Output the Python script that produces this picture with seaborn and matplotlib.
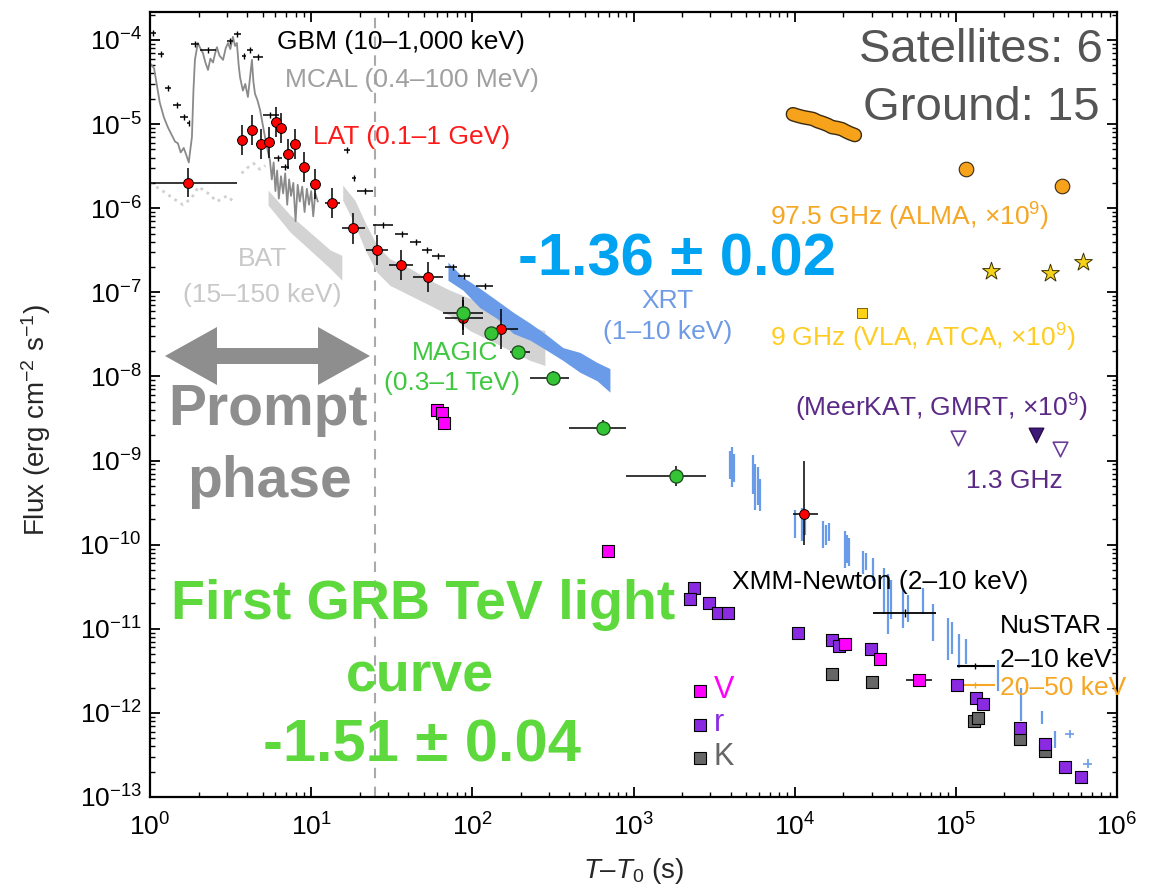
import matplotlib.pyplot as plt
import matplotlib.patheffects as pe
import seaborn as sns
import numpy as np
from matplotlib.patches import Polygon
from matplotlib.ticker import FixedLocator, LogLocator, NullFormatter

# ---- data (time in s, flux in erg cm^-2 s^-1) ----

# GBM (10-1000 keV), black crosses
gbm_t = [1.04, 1.17, 1.29, 1.47, 1.62, 1.74, 1.90, 2.29, 3.13, 3.46, 3.83, 4.17, 4.67, 5.55,
         6.22, 6.87, 16.7, 18.4, 21.6, 27.9, 36.6, 44.8, 52.4, 61.3, 75.9, 88.8, 120]
gbm_f = [1.21e-4, 6.8e-5, 2.7e-5, 1.7e-5, 1.2e-5, 1.03e-5, 9.0e-5, 7.6e-5, 9.7e-5, 1.18e-4, 6.5e-5,
         7.6e-5, 6.3e-5, 1.28e-5, 4.0e-6, 3.1e-6, 4.9e-6, 2.3e-6, 1.6e-6, 6.3e-7, 5.0e-7, 4.0e-7,
         3.2e-7, 2.7e-7, 2.0e-7, 1.55e-7, 1.2e-7]
gbm_tlo = [1.0, 1.12, 1.24, 1.39, 1.53, 1.70, 1.80, 2.05, 3.0, 3.3, 3.7, 4.0, 4.35, 5.0,
           5.9, 6.5, 16.0, 17.8, 19.3, 24.1, 33.0, 41.0, 48.8, 56.4, 67.5, 81.5, 106]
gbm_thi = [1.09, 1.22, 1.35, 1.56, 1.72, 1.78, 2.02, 2.55, 3.27, 3.65, 3.95, 4.35, 5.05, 6.3,
           6.6, 7.3, 17.4, 19.0, 24.1, 32.3, 39.9, 48.2, 56.4, 67.5, 80.5, 96.5, 134]

# MCAL (0.4-100 MeV), dark grey curve
mcal_t = [1.0, 1.06, 1.10, 1.15, 1.22, 1.29, 1.36, 1.43, 1.49, 1.55, 1.62, 1.70, 1.74, 1.78, 1.82,
          1.86, 1.90, 1.98, 2.05, 2.13, 2.2, 2.29, 2.37, 2.46, 2.53, 2.60, 2.7, 2.84, 2.95, 3.05,
          3.15, 3.27, 3.37, 3.46, 3.55, 3.62, 3.77, 3.9, 4.05, 4.17, 4.29, 4.38, 4.48, 4.65, 4.82,
          5.0, 5.17, 5.35, 5.55, 5.7, 5.85, 6.0, 6.15, 6.3, 6.5, 6.7, 6.9, 7.1, 7.3, 7.5, 7.75,
          8.0, 8.25, 8.5, 8.8, 9.1, 9.4, 9.7, 10.0, 10.3, 10.6, 11.0]
mcal_f = [5.3e-5, 4.6e-5, 3.0e-5, 1.8e-5, 1.2e-5, 9.2e-6, 7.5e-6, 6.2e-6, 5.9e-6, 4.6e-6, 5.2e-6,
          4.0e-6, 3.5e-6, 5.0e-6, 7.0e-6, 2.5e-5, 5.8e-5, 9.2e-5, 8.0e-5, 7.0e-5, 5.5e-5, 4.4e-5,
          6.0e-5, 5.4e-5, 6.8e-5, 8.2e-5, 6.5e-5, 5.8e-5, 8.0e-5, 9.2e-5, 7.8e-5, 1.09e-4, 8.5e-5,
          9.2e-5, 5.0e-5, 3.6e-5, 2.5e-5, 3.0e-5, 2.1e-5, 3.5e-5, 5.8e-5, 3.2e-5, 2.3e-5, 1.9e-5,
          1.47e-5, 1.0e-5, 7.0e-6, 5.0e-6, 3.7e-6, 2.2e-6, 3.5e-6, 1.6e-6, 2.8e-6, 1.3e-6, 2.4e-6,
          1.5e-6, 2.6e-6, 1.1e-6, 2.2e-6, 1.4e-6, 2.0e-6, 7.0e-7, 1.9e-6, 1.2e-6, 1.8e-6, 9.0e-7,
          1.7e-6, 1.1e-6, 1.6e-6, 8.0e-7, 1.5e-6, 1.2e-6]

# BAT (15-150 keV), light grey
bat_early_t = [1.0, 1.2, 1.4, 1.6, 1.8, 2.0, 2.3, 2.6, 3.0, 3.3]
bat_early_f = [2.0e-6, 1.6e-6, 1.3e-6, 1.1e-6, 1.3e-6, 1.8e-6, 1.5e-6, 1.2e-6, 1.4e-6, 1.2e-6]
bat_mid_t = [3.7, 4.0, 4.4, 4.8, 5.2]
bat_mid_f = [2.6e-6, 3.0e-6, 3.4e-6, 2.9e-6, 3.2e-6]
bat_a_t = [5.4, 7.4, 9.8, 13.1, 15.5]
bat_a_hi = [1.64e-6, 8.3e-7, 5.2e-7, 3.2e-7, 2.75e-7]
bat_a_lo = [1.09e-6, 5.2e-7, 3.2e-7, 1.93e-7, 1.39e-7]
bat_b_t = [15.7, 18.7, 21.6, 25.6, 30.8, 41.0, 54.6, 72.6, 96.6, 128, 171, 228, 282]
bat_b_hi = [1.88e-6, 1.24e-6, 6.8e-7, 3.6e-7, 2.5e-7, 1.93e-7, 1.39e-7, 1.06e-7, 8.5e-8, 6.5e-8,
            4.9e-8, 3.9e-8, 3.5e-8]
bat_b_lo = [1.24e-6, 6.3e-7, 3.2e-7, 1.73e-7, 1.21e-7, 9.2e-8, 7.0e-8, 5.3e-8, 3.5e-8, 2.7e-8,
            2.04e-8, 1.55e-8, 1.35e-8]

# XRT (1-10 keV), blue
xrt_t = [70.6, 87.5, 111, 142, 179, 228, 290, 365, 465, 593, 714]
xrt_hi = [2.28e-7, 1.51e-7, 1.12e-7, 8.0e-8, 5.8e-8, 4.3e-8, 3.1e-8, 2.2e-8, 1.93e-8, 1.47e-8, 1.24e-8]
xrt_lo = [1.39e-7, 1.06e-7, 6.6e-8, 4.9e-8, 3.25e-8, 2.7e-8, 2.04e-8, 1.55e-8, 1.12e-8, 8.9e-9, 6.5e-9]
xrt_late_t = [3950, 4080, 4200, 5500, 5700, 5900, 6100, 10100, 11100, 11600, 15000, 15600, 16300,
              20500, 21100, 21800, 26500, 27800, 30600, 36000, 37900, 39800, 47000, 50500, 62400,
              71900, 89000, 94000, 105000, 115000, 182000, 253000, 341000, 411000]
xrt_late_hi = [1.3e-9, 1.43e-9, 1.2e-9, 1.15e-9, 9.0e-10, 8.3e-10, 6.0e-10, 2.6e-10, 2.75e-10,
               2.2e-10, 1.93e-10, 1.7e-10, 1.8e-10, 1.47e-10, 1.3e-10, 1.2e-10, 8.5e-11, 8.0e-11,
               7.0e-11, 5.3e-11, 4.5e-11, 3.8e-11, 3.08e-11, 2.5e-11, 3.08e-11, 1.99e-11, 1.35e-11,
               1.2e-11, 8.7e-12, 7.5e-12, 4.2e-12, 1.99e-12, 1.06e-12, 6.1e-13]
xrt_late_lo = [6.0e-10, 4.8e-10, 5.5e-10, 4.0e-10, 2.6e-10, 3.0e-10, 2.54e-10, 1.2e-10, 1.12e-10,
               1.3e-10, 9.2e-11, 1.0e-10, 1.1e-10, 5.3e-11, 6.0e-11, 5.5e-11, 4.5e-11, 5.0e-11,
               3.7e-11, 1.5e-11, 8.7e-12, 1.3e-11, 1.03e-11, 1.2e-11, 1.51e-11, 7.2e-12, 4.2e-12,
               5.0e-12, 3.4e-12, 3.8e-12, 1.83e-12, 8.0e-13, 7.4e-13, 3.8e-13]
xrt_cross_t = [509000, 659000]
xrt_cross_f = [5.6e-13, 2.5e-13]

# LAT (0.1-1 GeV), red
lat_t = [1.72, 3.72, 4.29, 4.88, 5.47, 6.05, 6.50, 7.18, 7.94, 9.02, 10.6, 13.5, 18.2, 25.6, 36,
         53, 88, 150, 11500]
lat_f = [2.0e-6, 6.5e-6, 8.5e-6, 5.8e-6, 6.1e-6, 1.06e-5, 9.0e-6, 4.4e-6, 5.8e-6, 3.1e-6, 1.93e-6,
         1.15e-6, 5.8e-7, 3.2e-7, 2.1e-7, 1.5e-7, 5.0e-8, 3.7e-8, 2.3e-10]
lat_tlo = [1.0, 3.47, 4.0, 4.55, 5.1, 5.65, 6.05, 6.7, 7.4, 8.4, 9.9, 12.2, 15.5, 21.9, 30.4, 42.8,
           67.6, 123, 9750]
lat_thi = [3.47, 4.0, 4.6, 5.2, 5.85, 6.5, 7.0, 7.7, 8.5, 9.7, 11.4, 15.0, 21.6, 29.9, 42.8, 65.7,
           116, 192, 13900]
lat_flo = [1.35e-6, 4.3e-6, 5.6e-6, 3.8e-6, 4.0e-6, 7.0e-6, 5.9e-6, 2.9e-6, 3.8e-6, 2.05e-6,
           1.27e-6, 7.6e-7, 3.8e-7, 2.1e-7, 1.4e-7, 1.0e-7, 3.1e-8, 2.1e-8, 1.0e-10]
lat_fhi = [3.0e-6, 9.8e-6, 1.28e-5, 8.8e-6, 9.2e-6, 1.6e-5, 1.36e-5, 6.6e-6, 8.8e-6, 4.7e-6, 2.9e-6,
           1.74e-6, 8.8e-7, 4.8e-7, 3.2e-7, 2.3e-7, 8.0e-8, 6.4e-8, 1.0e-9]

# MAGIC (0.3-1 TeV), green
magic_t = [87.5, 130, 192, 316, 646, 1830]
magic_f = [5.6e-8, 3.25e-8, 1.93e-8, 9.5e-9, 2.47e-9, 6.6e-10]
magic_tlo = [65.7, 120, 171, 228, 398, 898]
magic_thi = [116, 142, 228, 398, 898, 2810]
magic_flo = [3.6e-8, 2.7e-8, 1.6e-8, 7.9e-9, 2.05e-9, 5.0e-10]
magic_fhi = [8.7e-8, 3.9e-8, 2.3e-8, 1.15e-8, 3.0e-9, 8.7e-10]

# optical / NIR
v_t = [60.3, 64.8, 66.6, 693, 20500, 33800, 58900]
v_f = [3.94e-9, 3.72e-9, 2.83e-9, 8.5e-11, 6.6e-12, 4.4e-12, 2.47e-12]
r_t = [2370, 2240, 2940, 3340, 3850, 10500, 17000, 18800, 29700, 101000, 133000, 147000, 249000,
       357000, 474000, 596000]
r_f = [3.08e-11, 2.28e-11, 2.04e-11, 1.55e-11, 1.55e-11, 8.9e-12, 7.4e-12, 6.3e-12, 5.8e-12,
       2.15e-12, 1.51e-12, 1.28e-12, 6.6e-13, 4.3e-13, 2.28e-13, 1.73e-13]
k_t = [17000, 30100, 129000, 137000, 249000, 357000]
k_f = [2.9e-12, 2.34e-12, 8.0e-13, 8.7e-13, 4.9e-13, 3.5e-13]

# radio (x 1e9)
alma_chain_t = [9750, 10400, 11250, 12100, 12970, 13900, 14960, 16000, 17020, 18300, 19630, 20800,
                21990, 23630]
alma_chain_f = [1.31e-5, 1.26e-5, 1.21e-5, 1.18e-5, 1.15e-5, 1.08e-5, 1.03e-5, 9.8e-6, 9.2e-6,
                9.0e-6, 8.7e-6, 8.2e-6, 7.8e-6, 7.4e-6]
alma_t = [115000, 455000]
alma_f = [2.9e-6, 1.83e-6]
atca_t = [165000, 383000, 614000]
atca_f = [1.78e-7, 1.68e-7, 2.28e-7]
vla_t = [26100]
vla_f = [5.6e-8]
meer_t = [103000, 442000]
meer_f = [1.83e-9, 1.39e-9]
gmrt_t = [313000]
gmrt_f = [1.99e-9]

# XMM-Newton and NuSTAR
xmm_t, xmm_f, xmm_lo, xmm_hi = 48300, 1.55e-11, 30600, 75200
nu_t, nu_lo, nu_hi = 131000, 101000, 175000
nu_soft_f, nu_hard_f = 3.6e-12, 2.15e-12

x_ticks = [1e0, 1e1, 1e2, 1e3, 1e4, 1e5, 1e6]
y_ticks = [1e-13, 1e-12, 1e-11, 1e-10, 1e-9, 1e-8, 1e-7, 1e-6, 1e-5, 1e-4]

# ---- figure ----
sns.set_style("ticks")
plt.rcParams['font.family'] = ['Liberation Sans', 'DejaVu Sans']
plt.rcParams['mathtext.fontset'] = 'custom'
plt.rcParams['mathtext.rm'] = 'Liberation Sans'
plt.rcParams['mathtext.it'] = 'Liberation Sans:italic'
plt.rcParams['mathtext.bf'] = 'Liberation Sans:bold'

W, H = 1157, 892
fig = plt.figure(figsize=(W / 100, H / 100), dpi=100)
ax = fig.add_axes([150 / W, 1 - 797 / H, 967 / W, 785 / H])
ax.set_xscale('log')
ax.set_yscale('log')


def af(px, py):
    # pixel position in the picture -> axes fraction
    return (px - 150) / 967, (797 - py) / 785


def label(px, py, s, color, size=19, ha='left', weight='normal'):
    ax.text(*af(px, py), s, transform=ax.transAxes, color=color, fontsize=size,
            ha=ha, va='center', fontweight=weight, zorder=10)


ax.axvline(25, color='#aaaaaa', ls=(0, (5, 4)), lw=1.5, zorder=1)

# BAT
ax.plot(bat_early_t, bat_early_f, color='#d0d0d0', ls=':', lw=2, zorder=1)
ax.plot(bat_mid_t, bat_mid_f, color='#d0d0d0', ls=':', lw=2, zorder=1)
ax.fill_between(bat_a_t, bat_a_lo, bat_a_hi, color='#d3d3d3', lw=0, zorder=1)
ax.fill_between(bat_b_t, bat_b_lo, bat_b_hi, color='#d3d3d3', lw=0, zorder=1)

# XRT
ax.fill_between(xrt_t, xrt_lo, xrt_hi, color='#6a9be8', lw=0, zorder=2)
ax.vlines(xrt_late_t, xrt_late_lo, xrt_late_hi, color='#6a9be8', lw=1.6, zorder=2)
ax.errorbar(xrt_cross_t, xrt_cross_f, xerr=[[30000, 40000], [30000, 40000]],
            yerr=[[0.6e-13, 0.3e-13], [0.7e-13, 0.35e-13]], fmt='none', ecolor='#6a9be8',
            elinewidth=1.2, zorder=2)

# MCAL
sns.lineplot(x=mcal_t, y=mcal_f, ax=ax, color='#8a8a8a', lw=1.3, sort=False,
             estimator=None, zorder=2)

# GBM
g_t = np.array(gbm_t)
ax.errorbar(gbm_t, gbm_f, xerr=[g_t - np.array(gbm_tlo), np.array(gbm_thi) - g_t], fmt='|',
            color='k', ms=5, mew=1, elinewidth=1.1, zorder=3)

# LAT
l_t, l_f = np.array(lat_t), np.array(lat_f)
ax.errorbar(lat_t, lat_f, xerr=[l_t - np.array(lat_tlo), np.array(lat_thi) - l_t],
            yerr=[l_f - np.array(lat_flo), np.array(lat_fhi) - l_f], fmt='none', ecolor='k',
            elinewidth=1.1, zorder=4)
sns.scatterplot(x=lat_t, y=lat_f, ax=ax, marker='o', s=50, color='#ff0000', edgecolor='k',
                linewidth=0.7, zorder=5, legend=False)

# MAGIC
m_t, m_f = np.array(magic_t), np.array(magic_f)
ax.errorbar(magic_t, magic_f, xerr=[m_t - np.array(magic_tlo), np.array(magic_thi) - m_t],
            yerr=[m_f - np.array(magic_flo), np.array(magic_fhi) - m_f], fmt='none', ecolor='k',
            elinewidth=1.1, zorder=5)
sns.scatterplot(x=magic_t, y=magic_f, ax=ax, marker='o', s=90, color='#35c435', edgecolor='#1a4a1a',
                linewidth=0.9, zorder=6, legend=False)

# optical
ax.errorbar([58900], [2.47e-12], xerr=[[9900], [12100]], fmt='none', ecolor='k', elinewidth=1.1, zorder=4)
sns.scatterplot(x=k_t, y=k_f, ax=ax, marker='s', s=85, color='#666666', edgecolor='k',
                linewidth=0.8, zorder=5, legend=False)
sns.scatterplot(x=r_t, y=r_f, ax=ax, marker='s', s=85, color='#8a2be2', edgecolor='k',
                linewidth=0.8, zorder=6, legend=False)
sns.scatterplot(x=v_t, y=v_f, ax=ax, marker='s', s=85, color='#ff00ff', edgecolor='k',
                linewidth=0.8, zorder=7, legend=False)

# radio
sns.lineplot(x=alma_chain_t, y=alma_chain_f, ax=ax, color='#f7a21b', lw=8.5, sort=False,
             estimator=None, solid_capstyle='round', zorder=5,
             path_effects=[pe.Stroke(linewidth=10.5, foreground='#3a2a10'), pe.Normal()])
sns.scatterplot(x=alma_t, y=alma_f, ax=ax, marker='o', s=110, color='#f7a21b', edgecolor='#3a2a10',
                linewidth=0.8, zorder=5, legend=False)
sns.scatterplot(x=atca_t, y=atca_f, ax=ax, marker='*', s=180, color='#f5d21a', edgecolor='#3a3000',
                linewidth=0.7, zorder=5, legend=False)
sns.scatterplot(x=vla_t, y=vla_f, ax=ax, marker='s', s=60, color='#ffd21a', edgecolor='#806000',
                linewidth=0.7, zorder=5, legend=False)
sns.scatterplot(x=meer_t, y=meer_f, ax=ax, marker='v', s=110, color='white', edgecolor='#6a3d9a',
                linewidth=1.2, zorder=5, legend=False)
sns.scatterplot(x=gmrt_t, y=gmrt_f, ax=ax, marker='v', s=110, color='#3d1a78', edgecolor='#2a0a50',
                linewidth=1.0, zorder=5, legend=False)

# XMM and NuSTAR
ax.errorbar([xmm_t], [xmm_f], xerr=[[xmm_t - xmm_lo], [xmm_hi - xmm_t]], fmt='|', color='k',
            ms=6, elinewidth=1.3, zorder=4)
ax.errorbar([nu_t], [nu_soft_f], xerr=[[nu_t - nu_lo], [nu_hi - nu_t]], fmt='|', color='k',
            ms=5, elinewidth=1.5, zorder=4)
ax.errorbar([nu_t], [nu_hard_f], xerr=[[nu_t - nu_lo], [nu_hi - nu_t]], fmt='|', color='#f5a623',
            ms=5, elinewidth=1.5, zorder=4)

# prompt phase double arrow
arrow_px = [(165, 356), (217, 327), (217, 348), (318, 348), (318, 327), (370, 356),
            (318, 385), (318, 364), (217, 364), (217, 385)]
ax.add_patch(Polygon([af(*p) for p in arrow_px], closed=True, transform=ax.transAxes,
                     color='#8e8e8e', lw=0, zorder=6))

# legend squares
for py, c in [(691, '#ff00ff'), (725, '#8a2be2'), (758, '#666666')]:
    ax.plot(*af(700, py), transform=ax.transAxes, marker='s', ms=9, color=c, mec='k', mew=0.8,
            zorder=10, clip_on=False)
label(714, 690, 'V', '#ff00ff', 22)
label(714, 723, 'r', '#8a2be2', 22)
label(714, 757, 'K', '#666666', 22)

# text labels
label(277, 42, 'GBM (10–1,000 keV)', 'k')
label(285, 80, 'MCAL (0.4–100 MeV)', '#a0a0a0')
label(313, 137, 'LAT (0.1–1 GeV)', '#ff1a1a')
label(262, 259, 'BAT', '#c8c8c8', ha='center')
label(262, 295, '(15–150 keV)', '#c8c8c8', ha='center')
label(668, 301, 'XRT', '#6f9be6', ha='center')
label(668, 332, '(1–10 keV)', '#6f9be6', ha='center')
label(455, 353, 'MAGIC', '#3fc83f', ha='center')
label(452, 383, '(0.3–1 TeV)', '#3fc83f', ha='center')
label(518, 260, '-1.36 ± 0.02', '#00a2f2', 43, weight='bold')
label(1103, 50, 'Satellites: 6', '#555555', 34, ha='right')
label(1100, 108, 'Ground: 15', '#555555', 34, ha='right')
label(770, 217, r'97.5 GHz (ALMA, ×10$^{9}$)', '#f5a623')
label(770, 338, r'9 GHz (VLA, ATCA, ×10$^{9}$)', '#ffcc22')
label(795, 408, r'(MeerKAT, GMRT, ×10$^{9}$)', '#5b2a86')
label(966, 481, '1.3 GHz', '#5b2a86')
label(732, 582, 'XMM-Newton (2–10 keV)', 'k')
label(1000, 626, 'NuSTAR', 'k')
label(1000, 660, '2–10 keV', 'k')
label(1000, 688, '20–50 keV', '#f5a623')
label(268, 410, 'Prompt', '#8e8e8e', 41, ha='center', weight='bold')
label(270, 482, 'phase', '#8e8e8e', 41, ha='center', weight='bold')
label(423, 605, 'First GRB TeV light', '#5dd93d', 40, ha='center', weight='bold')
label(420, 678, 'curve', '#5dd93d', 40, ha='center', weight='bold')
label(422, 746, '-1.51 ± 0.04', '#5dd93d', 43, ha='center', weight='bold')

# axes
ax.set_xlim(1, 1e6)
ax.set_ylim(1e-13, 2.15e-4)
ax.xaxis.set_major_locator(FixedLocator(x_ticks))
ax.yaxis.set_major_locator(FixedLocator(y_ticks))
for axis in (ax.xaxis, ax.yaxis):
    axis.set_minor_locator(LogLocator(base=10, subs=np.arange(2, 10), numticks=300))
    axis.set_minor_formatter(NullFormatter())
ax.tick_params(which='both', direction='in', top=True, right=True, colors='k')
ax.tick_params(which='major', length=7, width=1.3, labelsize=19)
ax.tick_params(which='minor', length=3.5, width=1.0)
ax.tick_params(axis='y', pad=6)
ax.tick_params(axis='x', pad=12)
for sp in ax.spines.values():
    sp.set_linewidth(1.6)
    sp.set_color('k')

ax.set_ylabel(r'Flux (erg cm$^{-2}$ s$^{-1}$)', fontsize=20)
ax.yaxis.set_label_coords(-0.1, 0.48)
ax.set_xlabel(r'$T$–$T_0$ (s)', fontsize=20)
ax.xaxis.set_label_coords(0.5, -0.075)

fig.savefig('out.png', dpi=100)
